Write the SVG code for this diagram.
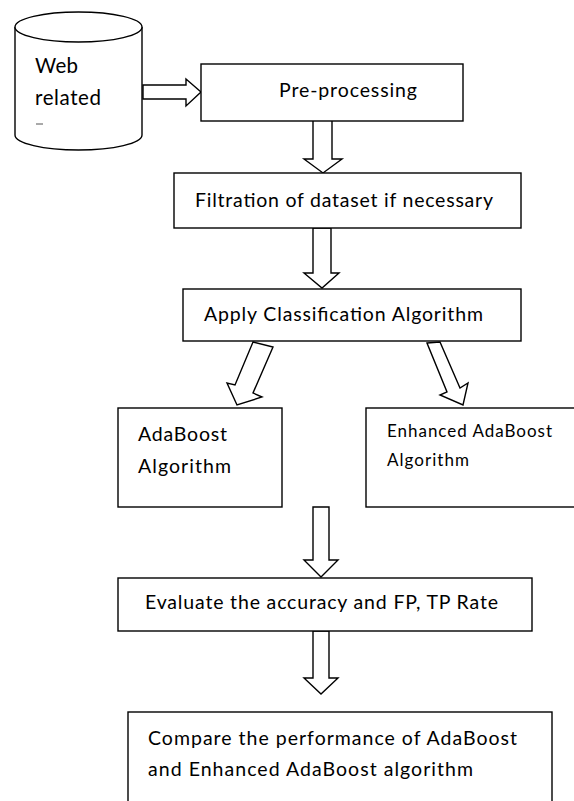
<svg xmlns="http://www.w3.org/2000/svg" width="574" height="801" viewBox="0 0 574 801">
<style>
.s{fill:#fff;stroke:#000;stroke-width:1.4}
.t{font-family:Lato,"Liberation Sans",sans-serif;font-size:19.5px;fill:#000}
.sm{font-size:17px}
</style>
<rect width="574" height="801" fill="#fff"/>
<g id="connectors">
<polygon class="s" points="143,85 186,85 186,79 201,92 186,106 186,99 143,99"/>
<polygon class="s" points="313,120 332,120 332,159 342,159 323,173 304,159 313,159"/>
<polygon class="s" points="313,228 331,228 331,273 339,273 322,288 304,273 313,273"/>
<polygon class="s" points="253,342 273,347 253,393 262,397 237,405 227,383 235,385"/>
<polygon class="s" points="427,343 440,342 460,388 468,383 463,405 440,395 447,392"/>
<polygon class="s" points="313,507 329,507 329,560 338,560 321,577 304,560 313,560"/>
<polygon class="s" points="313,631 329,631 329,678 338,678 321,694 304,678 313,678"/>
</g>
<g id="web-data">
<path class="s" d="M15,27 L15,135 A63.5,15 0 0 0 142,135 L142,27"/>
<ellipse class="s" cx="78.5" cy="27" rx="63.5" ry="15"/>
<text class="t" x="35" y="73" style="font-size:20.5px" textLength="43">Web</text>
<text class="t" x="35" y="105" style="font-size:20.5px" textLength="66">related</text>
<line x1="36" y1="124" x2="43" y2="124" stroke="#555" stroke-width="1"/>
</g>
<g id="preprocessing">
<rect class="s" x="201" y="64" width="262" height="57"/>
<text class="t" x="279" y="97" textLength="138">Pre-processing</text>
</g>
<g id="filtration">
<rect class="s" x="174" y="173" width="347" height="55"/>
<text class="t" x="195" y="207" textLength="298">Filtration of dataset if necessary</text>
</g>
<g id="apply">
<rect class="s" x="183" y="289" width="338" height="52"/>
<text class="t" x="204" y="321" textLength="279">Apply Classification Algorithm</text>
</g>
<g id="adaboost">
<rect class="s" x="118" y="408" width="164" height="99"/>
<text class="t" x="138" y="441" textLength="89">AdaBoost</text>
<text class="t" x="138" y="473" textLength="93">Algorithm</text>
</g>
<g id="enhanced">
<rect class="s" x="366" y="408" width="240" height="99"/>
<text class="t sm" x="387" y="437" textLength="165">Enhanced AdaBoost</text>
<text class="t sm" x="387" y="466" textLength="82">Algorithm</text>
</g>
<g id="evaluate">
<rect class="s" x="118" y="578" width="414" height="53"/>
<text class="t" x="145" y="609" textLength="353">Evaluate the accuracy and FP, TP Rate</text>
</g>
<g id="compare">
<rect class="s" x="128" y="712" width="424" height="120"/>
<text class="t" x="148" y="745" textLength="369">Compare the performance of AdaBoost</text>
<text class="t" x="148" y="776" textLength="325">and Enhanced AdaBoost algorithm</text>
</g>
</svg>
